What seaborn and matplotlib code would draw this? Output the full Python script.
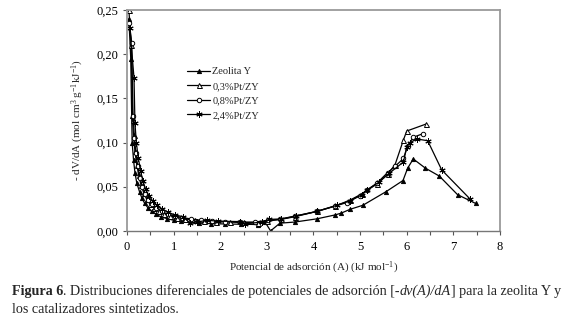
## differential adsorption potential distributions, zeolite Y and Pt catalysts
import matplotlib
matplotlib.use("Agg")
import matplotlib.pyplot as plt
import matplotlib.ticker as mticker
import numpy as np
import pandas as pd
import seaborn as sns

## data
zy_x = [0.04, 0.08, 0.10, 0.11, 0.14, 0.17, 0.21, 0.27, 0.32, 0.38, 0.45, 0.53, 0.62, 0.72, 0.85,
        1.00, 1.15, 1.35, 1.55, 1.80, 2.10, 2.45, 2.80, 2.96, 3.08, 3.28, 3.60, 4.07, 4.46, 4.59,
        4.79, 5.06, 5.56, 5.92, 6.02, 6.14, 6.40, 6.70, 7.09, 7.48]
zy_y = [0.240, 0.195, 0.130, 0.100, 0.080, 0.066, 0.054, 0.044, 0.037, 0.031, 0.026, 0.022, 0.019,
        0.016, 0.014, 0.012, 0.011, 0.0095, 0.0088, 0.0082, 0.0078, 0.0075, 0.0072, 0.0100, 0.000,
        0.0087, 0.0100, 0.0136, 0.018, 0.020, 0.0245, 0.029, 0.0445, 0.057, 0.071, 0.0814, 0.071,
        0.062, 0.041, 0.031]

pt03_x = [0.04, 0.09, 0.12, 0.14, 0.17, 0.21, 0.25, 0.30, 0.36, 0.42, 0.50, 0.58, 0.68, 0.80, 0.93,
          1.08, 1.25, 1.45, 1.65, 1.90, 2.20, 2.50, 2.80, 3.00, 3.30, 3.60, 4.07, 4.46, 4.79, 5.04,
          5.36, 5.59, 5.75, 5.93, 6.00, 6.42]
pt03_y = [0.250, 0.210, 0.125, 0.108, 0.090, 0.075, 0.063, 0.052, 0.043, 0.036, 0.030, 0.026, 0.022,
          0.019, 0.017, 0.015, 0.0135, 0.012, 0.011, 0.0105, 0.010, 0.0095, 0.009, 0.011, 0.013,
          0.016, 0.022, 0.028, 0.035, 0.042, 0.053, 0.064, 0.075, 0.103, 0.113, 0.121]

pt08_x = [0.05, 0.10, 0.13, 0.16, 0.19, 0.23, 0.28, 0.33, 0.39, 0.46, 0.54, 0.63, 0.74, 0.87, 1.02,
          1.18, 1.38, 1.58, 1.82, 2.10, 2.42, 2.75, 3.02, 3.28, 3.60, 4.07, 4.46, 4.71, 5.00, 5.14,
          5.36, 5.59, 5.75, 5.93, 6.02, 6.14, 6.35]
pt08_y = [0.235, 0.213, 0.130, 0.105, 0.088, 0.073, 0.060, 0.050, 0.042, 0.035, 0.030, 0.026, 0.022,
          0.019, 0.017, 0.015, 0.0135, 0.012, 0.011, 0.0105, 0.010, 0.010, 0.012, 0.013, 0.0165,
          0.022, 0.028, 0.032, 0.040, 0.046, 0.054, 0.066, 0.073, 0.082, 0.096, 0.106, 0.110]

pt24_x = [0.06, 0.15, 0.17, 0.20, 0.24, 0.29, 0.34, 0.40, 0.47, 0.55, 0.64, 0.75, 0.88, 1.03, 1.20,
          1.35, 1.50, 1.72, 1.95, 2.42, 2.53, 2.90, 3.05, 3.30, 3.62, 4.07, 4.50, 4.79, 5.04, 5.14,
          5.40, 5.62, 5.93, 6.00, 6.07, 6.22, 6.45, 6.75, 7.36]
pt24_y = [0.230, 0.173, 0.122, 0.100, 0.083, 0.068, 0.057, 0.047, 0.040, 0.034, 0.029, 0.025, 0.021,
          0.018, 0.016, 0.009, 0.010, 0.012, 0.011, 0.0105, 0.008, 0.010, 0.013, 0.0135, 0.017,
          0.022, 0.029, 0.034, 0.041, 0.046, 0.055, 0.065, 0.078, 0.095, 0.100, 0.104, 0.102,
          0.069, 0.036]

labels = ["Zeolita Y", "0,3%Pt/ZY", "0,8%Pt/ZY", "2,4%Pt/ZY"]
xs = [zy_x, pt03_x, pt08_x, pt24_x]
ys = [zy_y, pt03_y, pt08_y, pt24_y]

## long dataframe for seaborn
frames = []
for lab, x, y in zip(labels, xs, ys):
    frames.append(pd.DataFrame({"A": x, "dVdA": y, "serie": lab, "orden": range(len(x))}))
df = pd.concat(frames, ignore_index=True)

sns.set_theme(style="white")
plt.rcParams['font.family'] = ['Liberation Serif', 'DejaVu Serif']
plt.rcParams['mathtext.fontset'] = 'custom'
plt.rcParams['mathtext.rm'] = 'Liberation Serif'
plt.rcParams['mathtext.it'] = 'Liberation Serif:italic'
plt.rcParams['mathtext.bf'] = 'Liberation Serif:bold'

fig = plt.figure(figsize=(5.8, 3.22), dpi=100)
ax = fig.add_axes([0.219, 0.283, 0.643, 0.686])

star = (6, 2, 0)
styles = {
    "Zeolita Y": dict(marker="^", mfc="black", ms=3.0),
    "0,3%Pt/ZY": dict(marker="^", mfc="white", ms=3.6),
    "0,8%Pt/ZY": dict(marker="o", mfc="white", ms=3.2),
    "2,4%Pt/ZY": dict(marker=star, mfc="black", ms=4.5),
}

for lab in labels:
    sub = df[df["serie"] == lab]
    st = styles[lab]
    sns.lineplot(data=sub, x="A", y="dVdA", sort=False, estimator=None, ax=ax,
                 color="black", lw=0.9, marker=st["marker"], markersize=st["ms"],
                 markerfacecolor=st["mfc"], markeredgecolor="black", markeredgewidth=0.7,
                 label=lab)

ax.set_xlim(0, 8)
ax.set_ylim(0, 0.25)
ax.xaxis.set_major_locator(mticker.MultipleLocator(1))
ax.xaxis.set_minor_locator(mticker.MultipleLocator(0.5))
ax.yaxis.set_major_locator(mticker.MultipleLocator(0.05))
ax.yaxis.set_major_formatter(mticker.FuncFormatter(lambda v, p: ("%.2f" % v).replace(".", ",")))
ax.xaxis.set_major_formatter(mticker.FuncFormatter(lambda v, p: "%d" % v))

ax.tick_params(axis="both", which="both", direction="out", length=3, width=0.8,
               colors="#555555", labelcolor="black", labelsize=9)
ax.tick_params(axis="x", which="both", bottom=True, pad=4)
ax.tick_params(axis="y", which="both", left=True, pad=3)

for side in ["top", "right", "left"]:
    ax.spines[side].set_color("#9a9a9a")
    ax.spines[side].set_linewidth(1.3)
ax.spines["bottom"].set_color("#777777")
ax.spines["bottom"].set_linewidth(1.0)

ax.set_xlabel("Potencial de adsorción (A) (kJ mol$^{-1}$)", fontsize=8, labelpad=5)
ax.set_ylabel("- dV/dA (mol cm$^{3}$ g$^{-1}$kJ$^{-1}$)", fontsize=8, labelpad=8)

leg = ax.legend(loc="upper left", bbox_to_anchor=(0.15, 0.76), frameon=False, fontsize=7.5,
                handlelength=2.2, handletextpad=0.2, labelspacing=0.5, borderaxespad=0)

## caption, written in pieces so bold and italic parts line up
renderer = fig.canvas.get_renderer()
pieces = [("Figura 6", "bold", "normal"),
          (". Distribuciones diferenciales de potenciales de adsorción [-", "normal", "normal"),
          ("dv(A)/dA", "normal", "italic"),
          ("] para la zeolita Y y", "normal", "normal")]
x0 = 12 / 580
yline = 1 - 295 / 322
for txt, wt, sty in pieces:
    t = fig.text(x0, yline, txt, fontsize=10.2, weight=wt, style=sty, va="baseline")
    bb = t.get_window_extent(renderer)
    x0 = x0 + bb.width / fig.bbox.width
fig.text(12 / 580, 1 - 313 / 322, "los catalizadores sintetizados.", fontsize=10.2, va="baseline")

fig.savefig("out.png", dpi=100)
